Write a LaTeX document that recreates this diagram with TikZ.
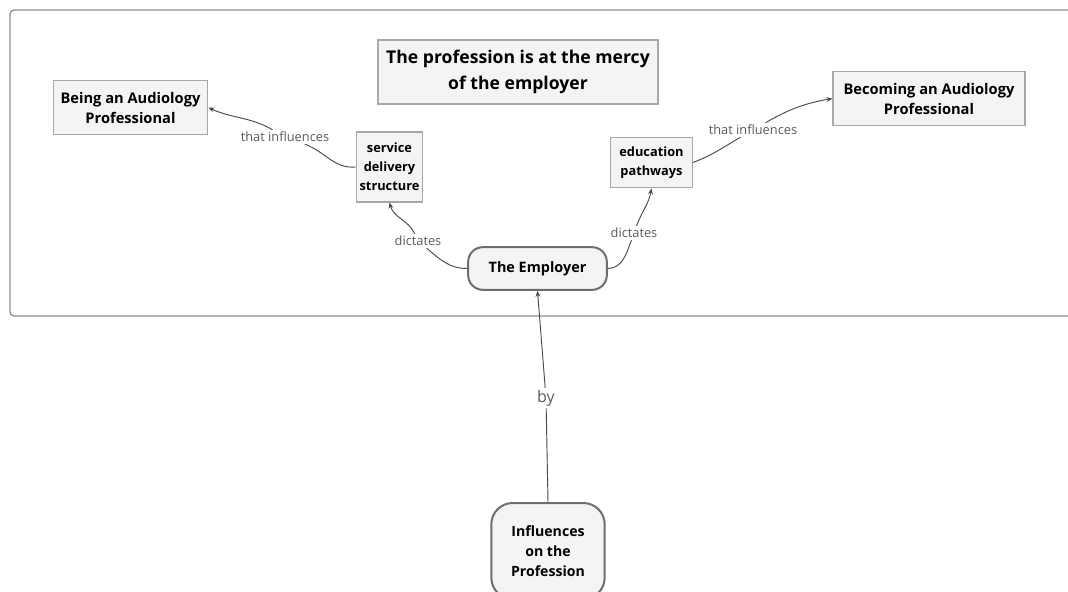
\documentclass[tikz,border=0pt]{standalone}
\usepackage{fontspec}
\setmainfont{Open Sans}
\usetikzlibrary{arrows.meta}
\definecolor{boxfill}{HTML}{F4F4F4}
\definecolor{boxline}{HTML}{A8A8A8}
\definecolor{darkline}{HTML}{6E6E6E}
\definecolor{connline}{HTML}{4A4A4A}
\definecolor{lbltext}{HTML}{5A5A5A}
\tikzset{
  concept/.style={draw=boxline, line width=0.8pt, fill=boxfill, inner sep=0pt, align=center,
    font=\bfseries\fontsize{11}{15}\selectfont, text=black},
  smallc/.style={concept, font=\bfseries\fontsize{9.6}{14.2}\selectfont},
  roundc/.style={concept, draw=darkline, line width=1.5pt, rounded corners=11pt},
  lbl/.style={fill=white, inner sep=1.5pt, text=lbltext, font=\fontsize{9.6}{11}\selectfont},
  conn/.style={draw=connline, line width=0.7pt},
  arr/.style={conn, -{Stealth[length=4.5pt,width=3.6pt]}}
}
\begin{document}
\begin{tikzpicture}[x=0.75pt,y=-0.75pt]
\useasboundingbox (0,0) rectangle (1068,592);
% frame
\draw[draw=darkline!80, line width=0.9pt, rounded corners=3pt] (10,10) rectangle (1080,316);
% nodes
\node[concept, minimum width=210pt, minimum height=48pt, font=\bfseries\fontsize{13.2}{19}\selectfont] (title) at (518,72) {The profession is at the mercy\\of the employer};
\node[concept, minimum width=116pt, minimum height=41pt] (being) at (130.5,107.5) {Being an Audiology\\Professional};
\node[smallc, minimum width=50pt, minimum height=52.5pt] (svc) at (389.5,167) {service\\delivery\\structure};
\node[smallc, minimum width=61pt, minimum height=38pt] (edu) at (651.5,162.5) {education\\pathways};
\node[concept, minimum width=144pt, minimum height=41pt] (becoming) at (929,98.5) {Becoming an Audiology\\Professional};
\node[roundc, minimum width=104pt, minimum height=32pt, font=\bfseries\fontsize{10.8}{14}\selectfont] (emp) at (537.5,268.5) {The Employer};
\node[roundc, rounded corners=16pt, minimum width=85pt, minimum height=72pt, font=\bfseries\fontsize{10.6}{15}\selectfont] (infl) at (548,551) {Influences\\on the\\Profession};
% labels
\node[lbl] (d1) at (418,241) {dictates};
\node[lbl] (d2) at (634,233) {dictates};
\node[lbl] (t1) at (285,137) {that influences};
\node[lbl] (t2) at (753,130) {that influences};
\node[lbl, font=\fontsize{12}{14}\selectfont] (by) at (546,398) {by};
% connectors
\draw[conn] (emp.west) to[out=180,in=-40] (d1);
\draw[arr] (d1) to[out=115,in=-75] (svc.south);
\draw[conn] (emp.east) to[out=0,in=-110] (d2);
\draw[arr] (d2) to[out=70,in=-100] (edu.south);
\draw[conn] (svc.west) to[out=185,in=-20] (t1);
\draw[arr] (t1) to[out=150,in=-25] (being.east);
\draw[conn] (edu.east) to[out=20,in=-150] (t2);
\draw[arr] (t2) to[out=30,in=190] (becoming.west);
\draw[conn] (infl.north) -- (by);
\draw[arr] (by) -- (emp.south);
\end{tikzpicture}
\end{document}
